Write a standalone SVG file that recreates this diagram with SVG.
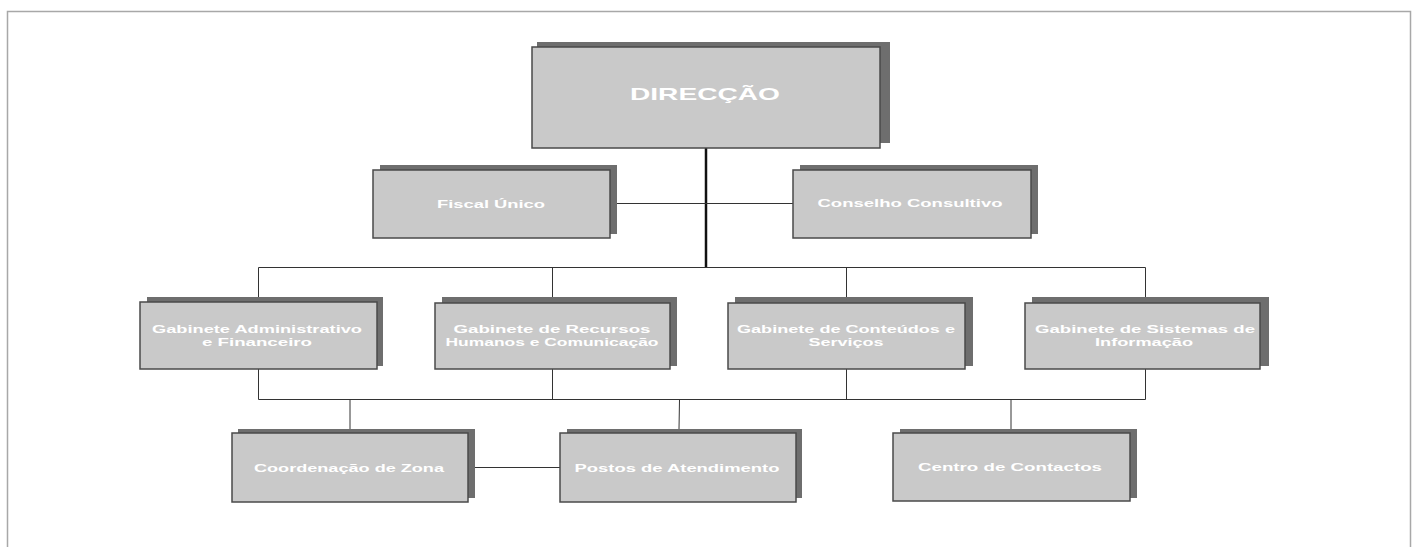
<svg xmlns="http://www.w3.org/2000/svg" width="1418" height="547" viewBox="0 0 1418 547">
<style>
.back{fill:#6e6e6e;}
.front{fill:#c9c9c9;stroke:#4a4a4a;stroke-width:1.5;}
.lbl{font-family:"Liberation Sans",Arial,sans-serif;font-weight:bold;font-size:11px;fill:#ffffff;text-anchor:middle;}
.big{font-size:17px;}
.ln{stroke:#333;stroke-width:1;fill:none;}
.main{stroke:#111;stroke-width:2.5;fill:none;}
</style>
<rect x="0" y="0" width="1418" height="547" fill="#ffffff"/>
<rect x="7.5" y="11.5" width="1403" height="560" fill="none" stroke="#a8a8a8" stroke-width="1.5"/>
<g id="connectors">
<line class="main" x1="706" y1="148" x2="706" y2="267"/>
<line class="ln" x1="617" y1="203.5" x2="793" y2="203.5"/>
<polyline class="ln" points="258.5,297 258.5,267.5 1145.5,267.5 1145.5,297"/>
<line class="ln" x1="552.5" y1="267.5" x2="552.5" y2="297"/>
<line class="ln" x1="846.5" y1="267.5" x2="846.5" y2="297"/>
<polyline class="ln" points="258.5,369 258.5,399.5 1145.5,399.5 1145.5,369"/>
<line class="ln" x1="552.5" y1="369" x2="552.5" y2="399.5"/>
<line class="ln" x1="846.5" y1="369" x2="846.5" y2="399.5"/>
<line class="ln" x1="350" y1="399.5" x2="350" y2="429"/>
<line class="ln" x1="679.5" y1="399.5" x2="679" y2="429"/>
<line class="ln" x1="1011" y1="399.5" x2="1011" y2="429"/>
<line class="ln" x1="475" y1="467.5" x2="560" y2="467.5"/>
</g>
<g id="direccao">
<rect class="back" x="537" y="42" width="353" height="101"/>
<rect class="front" x="532" y="47" width="348" height="101"/>
<text class="lbl big" x="705" y="100" textLength="150" lengthAdjust="spacingAndGlyphs">DIRECÇÃO</text>
</g>
<g id="fiscal">
<rect class="back" x="380" y="165" width="237" height="69"/>
<rect class="front" x="373" y="170" width="237" height="68"/>
<text class="lbl" x="491" y="208" textLength="108" lengthAdjust="spacingAndGlyphs">Fiscal Único</text>
</g>
<g id="conselho">
<rect class="back" x="800" y="165" width="238" height="69"/>
<rect class="front" x="793" y="170" width="238" height="68"/>
<text class="lbl" x="910" y="207" textLength="185" lengthAdjust="spacingAndGlyphs">Conselho Consultivo</text>
</g>
<g id="gab-admin">
<rect class="back" x="147" y="297" width="236" height="69"/>
<rect class="front" x="140" y="302" width="237" height="67"/>
<text class="lbl" x="257" y="333" textLength="210" lengthAdjust="spacingAndGlyphs">Gabinete Administrativo</text>
<text class="lbl" x="257" y="346" textLength="110" lengthAdjust="spacingAndGlyphs">e Financeiro</text>
</g>
<g id="gab-rh">
<rect class="back" x="442" y="297" width="235" height="69"/>
<rect class="front" x="435" y="303" width="235" height="66"/>
<text class="lbl" x="552" y="333" textLength="197" lengthAdjust="spacingAndGlyphs">Gabinete de Recursos</text>
<text class="lbl" x="552" y="346" textLength="213" lengthAdjust="spacingAndGlyphs">Humanos e Comunicação</text>
</g>
<g id="gab-conteudos">
<rect class="back" x="735" y="297" width="238" height="69"/>
<rect class="front" x="728" y="303" width="237" height="66"/>
<text class="lbl" x="846" y="333" textLength="218" lengthAdjust="spacingAndGlyphs">Gabinete de Conteúdos e</text>
<text class="lbl" x="846" y="346" textLength="75" lengthAdjust="spacingAndGlyphs">Serviços</text>
</g>
<g id="gab-sistemas">
<rect class="back" x="1032" y="297" width="237" height="69"/>
<rect class="front" x="1025" y="303" width="235" height="66"/>
<text class="lbl" x="1145" y="333" textLength="220" lengthAdjust="spacingAndGlyphs">Gabinete de Sistemas de</text>
<text class="lbl" x="1144" y="346" textLength="98" lengthAdjust="spacingAndGlyphs">Informação</text>
</g>
<g id="coordenacao">
<rect class="back" x="238" y="429" width="237" height="69"/>
<rect class="front" x="232" y="433" width="236" height="69"/>
<text class="lbl" x="349" y="472" textLength="190" lengthAdjust="spacingAndGlyphs">Coordenação de Zona</text>
</g>
<g id="postos">
<rect class="back" x="567" y="429" width="235" height="69"/>
<rect class="front" x="560" y="433" width="236" height="69"/>
<text class="lbl" x="677" y="472" textLength="205" lengthAdjust="spacingAndGlyphs">Postos de Atendimento</text>
</g>
<g id="centro">
<rect class="back" x="900" y="429" width="237" height="69"/>
<rect class="front" x="893" y="433" width="237" height="68"/>
<text class="lbl" x="1010" y="471" textLength="184" lengthAdjust="spacingAndGlyphs">Centro de Contactos</text>
</g>
</svg>
